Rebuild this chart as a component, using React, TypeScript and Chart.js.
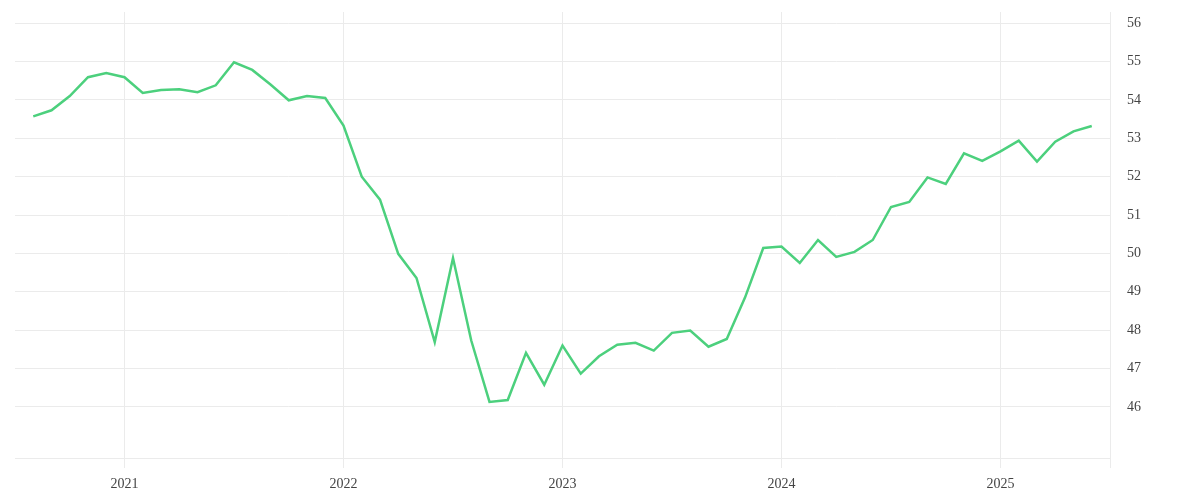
import { useEffect, useRef } from "react";
import { Chart, ChartConfiguration, registerables } from "chart.js";
Chart.register(...registerables);

// monthly values, Aug 2020 .. Jun 2025
const values2020 = [53.57, 53.73, 54.1, 54.59, 54.7];
const values2021 = [54.59, 54.18, 54.26, 54.28, 54.2, 54.38, 54.98, 54.78, 54.4, 53.99, 54.1, 54.05];
const values2022 = [53.33, 52.0, 51.4, 49.99, 49.36, 47.69, 49.88, 47.73, 46.13, 46.18, 47.41, 46.58];
const values2023 = [47.6, 46.87, 47.32, 47.62, 47.67, 47.47, 47.93, 47.99, 47.57, 47.77, 48.85, 50.14];
const values2024 = [50.18, 49.75, 50.35, 49.91, 50.04, 50.35, 51.21, 51.34, 51.98, 51.81, 52.61, 52.41];
const values2025 = [52.66, 52.94, 52.39, 52.91, 53.18, 53.32];

// year ticks (month index of each January, counted from Aug 2020) + the closing edge
const yearTickIndex = [5, 17, 29, 41, 53, 59];
const yearLabels = ["2021", "2022", "2023", "2024", "2025", ""];
const yTickValues = [46, 47, 48, 49, 50, 51, 52, 53, 54, 55, 56];

const allValues = [...values2020, ...values2021, ...values2022, ...values2023, ...values2024, ...values2025];

export default function App() {
  const canvasRef = useRef<HTMLCanvasElement | null>(null);
  const chartRef = useRef<Chart<"line"> | null>(null);

  useEffect(() => {
    document.body.style.margin = "0";
    const gridColor = "#ebebeb";
    const tickFont = { family: "'Liberation Serif', serif", size: 14 };

    const config: ChartConfiguration<"line"> = {
      type: "line",
      data: {
        datasets: [
          {
            label: "Value",
            data: allValues.map((v, i) => ({ x: i, y: v })),
            borderColor: "#4cd07d",
            borderWidth: 2.5,
            pointRadius: 0,
            tension: 0,
            fill: false,
          },
        ],
      },
      options: {
        animation: false,
        responsive: true,
        maintainAspectRatio: false,
        layout: { padding: { left: 15, top: 12, right: 0, bottom: 0 } },
        plugins: {
          legend: { display: false },
          tooltip: { enabled: false },
        },
        scales: {
          x: {
            type: "linear",
            min: -1,
            max: 59,
            afterBuildTicks: (scale: any) => {
              scale.ticks = yearTickIndex.map((v) => ({ value: v }));
            },
            afterFit: (scale: any) => {
              scale.height = 42;
              scale.paddingLeft = 0;
              scale.paddingRight = 0;
            },
            ticks: {
              autoSkip: false,
              maxRotation: 0,
              padding: 8,
              color: "#444",
              font: tickFont,
              callback: (value: any) => {
                const idx = yearTickIndex.indexOf(Number(value));
                return idx >= 0 ? yearLabels[idx] : "";
              },
            },
            grid: { color: gridColor, tickLength: 10, lineWidth: 1 },
            border: { display: true, color: gridColor },
          },
          y: {
            type: "linear",
            position: "right",
            min: 44.67,
            max: 56.29,
            afterBuildTicks: (scale: any) => {
              scale.ticks = yTickValues.map((v) => ({ value: v }));
            },
            afterFit: (scale: any) => {
              scale.width = 90;
              scale.paddingTop = 0;
              scale.paddingBottom = 0;
            },
            ticks: {
              padding: 17,
              color: "#444",
              font: tickFont,
              callback: (value: any) => String(value),
            },
            grid: { color: gridColor, drawTicks: false, lineWidth: 1 },
            border: { display: false },
          },
        },
      },
    };

    if (canvasRef.current) {
      chartRef.current = new Chart(canvasRef.current, config);
    }
    return () => {
      if (chartRef.current) chartRef.current.destroy();
    };
  }, []);

  return (
    <div style={{ width: 1200, height: 500, position: "relative" }}>
      <canvas ref={canvasRef} />
    </div>
  );
}
